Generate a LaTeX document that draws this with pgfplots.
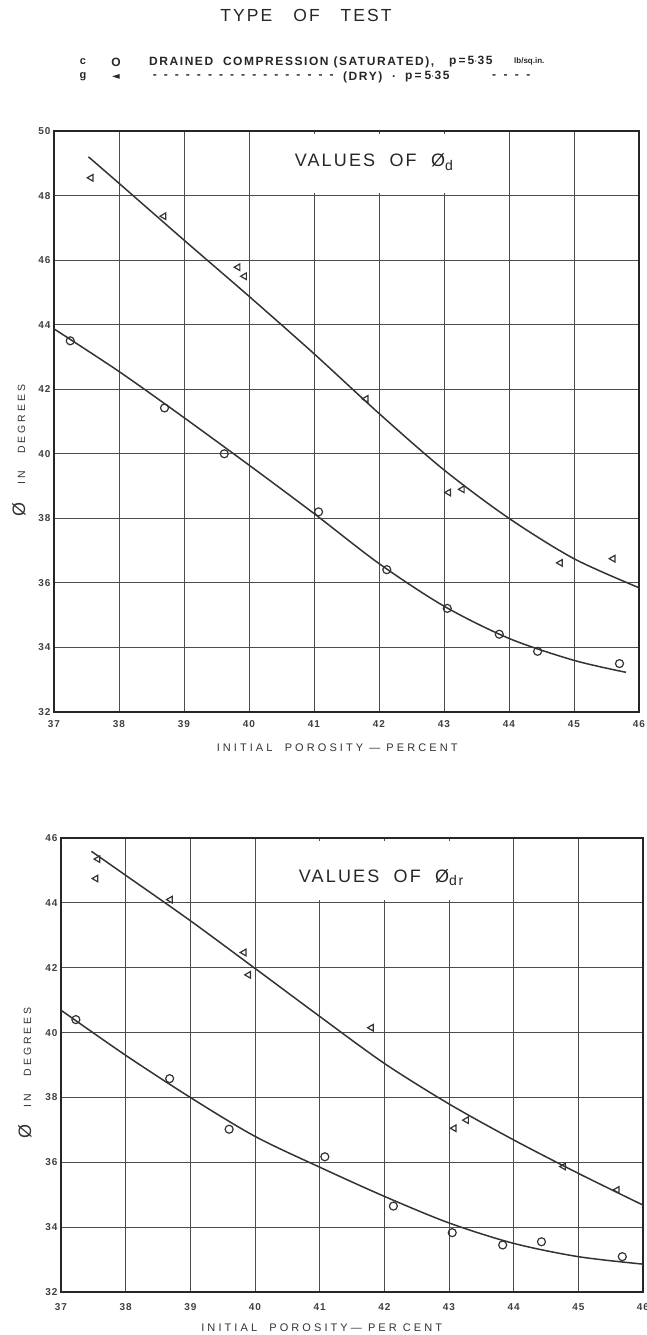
\documentclass[border=0pt]{standalone}
\usepackage{pgfplots}
\pgfplotsset{compat=1.18}
\usepackage{fontspec}
\setmainfont{Liberation Sans}
\newfontfamily\ttlf[LetterSpace=12]{Liberation Sans}
\newfontfamily\lgdf[LetterSpace=13]{Liberation Sans}
\newfontfamily\lgsf{Liberation Sans}
\newfontfamily\labf[LetterSpace=28]{Liberation Sans}
\newfontfamily\tckf[LetterSpace=10]{Liberation Sans}
\newfontfamily\symf{DejaVu Sans}
\definecolor{ink}{gray}{0.2}

\pgfplotstableread{
x y
37.25 43.50
38.70 41.42
39.62 40.00
41.07 38.20
42.12 36.41
43.05 35.21
43.85 34.41
44.44 33.88
45.70 33.50
}\topsat
\pgfplotstableread{
x y
37.00 43.87
38.00 42.55
39.00 41.12
40.00 39.65
41.00 38.15
42.00 36.60
43.00 35.28
44.00 34.28
45.00 33.60
45.80 33.23
}\topsatfit
\pgfplotstableread{
x y
37.57 48.55
38.69 47.36
39.83 45.78
39.93 45.50
41.80 41.70
43.07 38.80
43.28 38.90
44.79 36.62
45.60 36.75
}\topdry
\pgfplotstableread{
x y
37.53 49.20
38.00 48.38
39.00 46.62
40.00 44.88
41.00 43.10
42.00 41.25
43.00 39.50
44.00 38.00
45.00 36.75
46.00 35.85
}\topdryfit
\pgfplotstableread{
x y
37.23 40.40
38.68 38.58
39.60 37.02
41.08 36.17
42.14 34.65
43.05 33.83
43.83 33.45
44.43 33.55
45.68 33.09
}\botsat
\pgfplotstableread{
x y
37.00 40.69
38.00 39.30
39.00 38.00
40.00 36.80
41.00 35.85
42.00 34.95
43.00 34.13
44.00 33.50
45.00 33.09
46.00 32.86
}\botsatfit
\pgfplotstableread{
x y
37.57 45.35
37.54 44.75
38.69 44.10
39.83 42.47
39.90 41.78
41.80 40.15
43.08 37.05
43.27 37.30
44.77 35.87
45.60 35.15
}\botdry
\pgfplotstableread{
x y
37.47 45.59
38.00 44.85
39.00 43.45
40.00 41.98
41.00 40.50
42.00 39.05
43.00 37.80
44.00 36.69
45.00 35.66
46.00 34.68
}\botdryfit

\pgfplotsset{
  myax/.style={
    scale only axis,
    xmin=37, xmax=46, xtick={37,...,46},
    grid=major,
    grid style={line width=0.9pt, color=black!70},
    axis line style={line width=1.7pt, color=black!85},
    major tick length=0pt,
    tick label style={font=\tckf\bfseries\fontsize{10}{11}\selectfont, color=black!75},
    /pgf/number format/assume math mode=true,
    xlabel style={font=\labf\fontsize{11}{12}\selectfont, color=black!80},
    ylabel style={font=\labf\fontsize{10.5}{12}\selectfont, color=black!80},
  },
  fitline/.style={smooth, draw=ink, line width=1.5pt, no marks},
  sat/.style={only marks, mark=o, mark size=4pt, mark options={draw=ink, line width=1.2pt}},
  dry/.style={only marks, mark=triangle, mark size=3.8pt, mark options={rotate=90, draw=ink, fill=black!30, line width=1.2pt}},
}

\newcommand\dsh[1]{\hbox to #1{\xleaders\hbox to 11pt{\hss-\hss}\hfill}}

\begin{document}
\begin{tikzpicture}
\useasboundingbox (0pt,0pt) rectangle (647pt,-1335pt);

% header
\node[font=\ttlf\fontsize{17.5}{18}\selectfont, color=black!85] at (306pt,-15pt) {TYPE\ \ \ OF\ \ \ TEST};
\begin{scope}[every node/.style={font=\lgdf\bfseries\fontsize{12}{12}\selectfont, color=black!85, inner sep=0pt}]
\node at (83pt,-62pt) {\fontsize{11}{12}\selectfont c};
\node at (116pt,-62pt) {O};
\node[anchor=west] at (149pt,-62pt) {DRAINED\ \ COMPRESSION\ (SATURATED),};
\node[anchor=west] at (449pt,-62pt) {p\hspace{2pt}=\hspace{2pt}5$\cdot$35};
\node[anchor=west] at (514pt,-61pt) {\lgsf\bfseries\fontsize{8}{9}\selectfont lb/sq.in.};
\node at (83pt,-77pt) {\fontsize{11}{12}\selectfont g};
\node[font=\symf\fontsize{10}{12}\selectfont] at (116pt,-77pt) {◄};
\node[anchor=west] at (149pt,-77pt) {\dsh{188pt}};
\node[anchor=west] at (343pt,-77pt) {(DRY)};
\node[anchor=west] at (392pt,-77pt) {.};
\node[anchor=west] at (405pt,-77pt) {p\hspace{2pt}=\hspace{3pt}5$\cdot$35};
\node[anchor=west] at (488pt,-77pt) {\dsh{46pt}};
\end{scope}

% top plot
\begin{axis}[myax,
  at={(54pt,-712pt)}, anchor=south west,
  width=585pt, height=581pt,
  ymin=32, ymax=50, ytick={32,34,...,50},
  xticklabel style={yshift=-5pt},
  xlabel={INITIAL\ \ POROSITY\ — PERCENT},
  xlabel style={at={(axis description cs:0.484,0)}, anchor=center, yshift=-36pt},
  ylabel={{\fontsize{18}{18}\selectfont Ø}\ \ \ IN\ \ \ DEGREES},
  ylabel style={at={(axis description cs:-0.06,0.45)}, anchor=center},
]
\fill[white] (axis cs:40.07,48.08) rectangle (axis cs:43.93,49.92);
\node[font=\ttlf\fontsize{18}{18}\selectfont, color=black!85] at (axis cs:41.92,49.04) {VALUES\ \ OF\ \ Ø\raisebox{-0.35ex}{\fontsize{14}{14}\selectfont d}};
\addplot[fitline] table {\topsatfit};
\addplot[fitline] table {\topdryfit};
\addplot[sat] table {\topsat};
\addplot[dry] table {\topdry};
\end{axis}

% bottom plot
\begin{axis}[myax,
  at={(61pt,-1292pt)}, anchor=south west,
  width=582pt, height=454pt,
  ymin=32, ymax=46, ytick={32,34,...,46},
  xticklabel style={yshift=-8pt},
  xlabel={INITIAL\ \ POROSITY— PER CENT},
  xlabel style={at={(axis description cs:0.448,0)}, anchor=center, yshift=-36pt},
  ylabel={{\fontsize{18}{18}\selectfont Ø}\ \ \ IN\ \ \ DEGREES},
  ylabel style={at={(axis description cs:-0.062,0.482)}, anchor=center},
]
\fill[white] (axis cs:40.07,44.08) rectangle (axis cs:43.93,45.92);
\node[font=\ttlf\fontsize{18}{18}\selectfont, color=black!85] at (axis cs:41.95,44.77) {VALUES\ \ OF\ \ Ø\raisebox{-0.35ex}{\fontsize{14}{14}\selectfont dr}};
\addplot[fitline] table {\botsatfit};
\addplot[fitline] table {\botdryfit};
\addplot[sat] table {\botsat};
\addplot[dry] table {\botdry};
\end{axis}
\end{tikzpicture}
\end{document}
